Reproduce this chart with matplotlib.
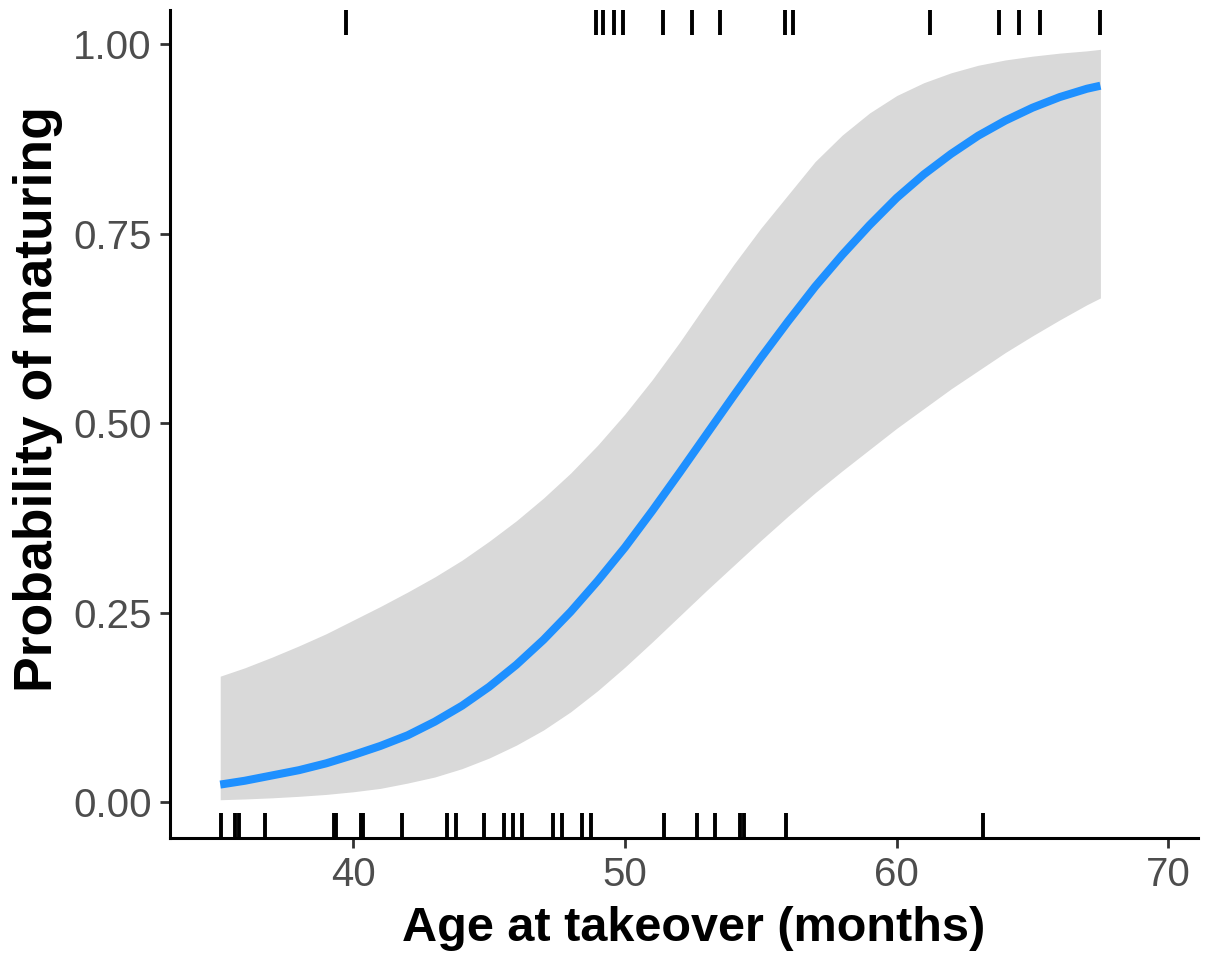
import matplotlib.pyplot as plt
from matplotlib import transforms

plt.rcParams['font.family'] = ['Liberation Sans', 'DejaVu Sans']

# age grid (months) with fitted probability and CI
age = [35.1, 36, 37, 38, 39, 40, 41, 42, 43, 44, 45, 46, 47, 48, 49, 50, 51,
       52, 53, 54, 55, 56, 57, 58, 59, 60, 61, 62, 63, 64, 65, 66, 67, 67.5]
prob = [0.023, 0.028, 0.035, 0.042, 0.051, 0.062, 0.074, 0.088, 0.106, 0.127,
        0.152, 0.181, 0.214, 0.251, 0.292, 0.336, 0.384, 0.434, 0.485, 0.536,
        0.586, 0.634, 0.680, 0.722, 0.761, 0.797, 0.828, 0.855, 0.879, 0.899,
        0.916, 0.930, 0.941, 0.945]
upper = [0.166, 0.177, 0.191, 0.206, 0.222, 0.240, 0.258, 0.277, 0.297, 0.319,
         0.344, 0.371, 0.401, 0.434, 0.471, 0.512, 0.557, 0.606, 0.658, 0.709,
         0.757, 0.801, 0.845, 0.880, 0.909, 0.932, 0.949, 0.962, 0.972, 0.979,
         0.984, 0.988, 0.991, 0.993]
lower = [0.003, 0.004, 0.0055, 0.0075, 0.010, 0.0135, 0.018, 0.025, 0.033,
         0.044, 0.058, 0.075, 0.095, 0.119, 0.147, 0.178, 0.211, 0.245, 0.279,
         0.312, 0.345, 0.377, 0.408, 0.437, 0.465, 0.493, 0.519, 0.545, 0.569,
         0.593, 0.615, 0.636, 0.656, 0.665]

# observed ages: not matured (0) and matured (1)
age_0 = [35.12, 35.65, 35.79, 36.75, 39.3, 39.38, 40.27, 40.35, 41.78, 43.44,
         43.78, 44.81, 45.55, 45.88, 46.20, 47.36, 47.67, 48.41, 48.74, 51.44,
         52.64, 53.31, 54.25, 54.37, 55.91, 63.19]
age_1 = [39.73, 48.93, 49.18, 49.59, 49.94, 51.41, 52.48, 53.49, 55.89, 56.20,
         61.22, 63.75, 64.49, 65.26, 67.48]

fig = plt.figure(figsize=(12.14, 9.64), dpi=100)
ax = fig.add_axes([0.140, 0.1307, 0.847, 0.859])

ax.fill_between(age, lower, upper, color='#D9D9D9', lw=0)
ax.plot(age, prob, color='#1E90FF', lw=5.8, solid_capstyle='butt')

trans = transforms.blended_transform_factory(ax.transData, ax.transAxes)
ax.vlines(age_0, 0, 0.03, transform=trans, color='black', lw=2.8)
ax.vlines(age_1, 0.97, 1, transform=trans, color='black', lw=2.8)

ax.set_xlim(33.25, 71.1)
ax.set_ylim(-0.0475, 1.045)
ax.set_xticks([40, 50, 60, 70])
ax.set_yticks([0, 0.25, 0.5, 0.75, 1.0])
ax.set_yticklabels(['0.00', '0.25', '0.50', '0.75', '1.00'])

for s in ['top', 'right']:
    ax.spines[s].set_visible(False)
for s in ['left', 'bottom']:
    ax.spines[s].set_linewidth(2.2)
    ax.spines[s].set_color('black')

ax.tick_params(axis='both', length=7, width=2, color='#333333',
               labelsize=29, labelcolor='#4D4D4D', pad=6)

ax.set_xlabel('Age at takeover (months)', fontsize=35, fontweight='bold')
ax.set_ylabel('Probability of maturing', fontsize=38.5, fontweight='bold')
ax.xaxis.set_label_coords(0.509, -0.082)
ax.yaxis.set_label_coords(-0.104, 0.530)

fig.savefig('out.png', dpi=100)
